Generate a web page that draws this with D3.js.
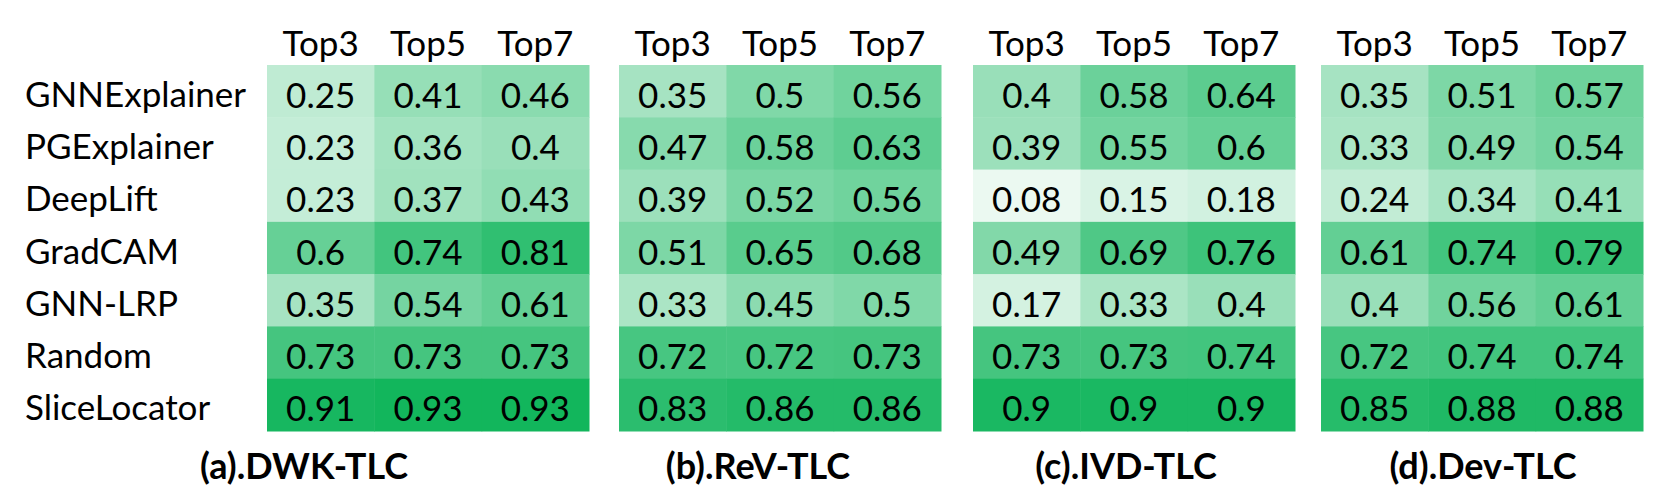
<!DOCTYPE html>
<html>
<head>
<meta charset="utf-8">
<script src="https://cdn.jsdelivr.net/npm/d3@7"></script>
<style>
  html, body { margin: 0; padding: 0; background: #fff; }
  svg { display: block; }
  text { font-family: Lato, "Open Sans", sans-serif; fill: #000; }
</style>
</head>
<body>
<svg id="chart" width="1661" height="500"></svg>
<script>
// ---- data ----
const methods = ["GNNExplainer", "PGExplainer", "DeepLift", "GradCAM", "GNN-LRP", "Random", "SliceLocator"];
const topk = ["Top3", "Top5", "Top7"];
const titles = ["(a).DWK-TLC", "(b).ReV-TLC", "(c).IVD-TLC", "(d).Dev-TLC"];
const dwkTLC = [[0.25, 0.41, 0.46], [0.23, 0.36, 0.4], [0.23, 0.37, 0.43], [0.6, 0.74, 0.81], [0.35, 0.54, 0.61], [0.73, 0.73, 0.73], [0.91, 0.93, 0.93]];
const revTLC = [[0.35, 0.5, 0.56], [0.47, 0.58, 0.63], [0.39, 0.52, 0.56], [0.51, 0.65, 0.68], [0.33, 0.45, 0.5], [0.72, 0.72, 0.73], [0.83, 0.86, 0.86]];
const ivdTLC = [[0.4, 0.58, 0.64], [0.39, 0.55, 0.6], [0.08, 0.15, 0.18], [0.49, 0.69, 0.76], [0.17, 0.33, 0.4], [0.73, 0.73, 0.74], [0.9, 0.9, 0.9]];
const devTLC = [[0.35, 0.51, 0.57], [0.33, 0.49, 0.54], [0.24, 0.34, 0.41], [0.61, 0.74, 0.79], [0.4, 0.56, 0.61], [0.72, 0.74, 0.74], [0.85, 0.88, 0.88]];
const panels = [dwkTLC, revTLC, ivdTLC, devTLC];

// ---- layout ----
const gridLefts = [267, 619, 973, 1321];
const gridW = 322;
const gridTop = 65, gridBottom = 431;
const titleCenters = [304, 758, 1126, 1483];

const svg = d3.select("#chart");
const color = d3.scaleLinear().domain([0, 1]).range(["#ffffff", "rgb(0,176,80)"]).interpolate(d3.interpolateRgb);
const y = d3.scaleBand().domain(methods).range([gridTop, gridBottom]).padding(0);

panels.forEach((data, p) => {
  const x = d3.scaleBand().domain(topk).range([gridLefts[p], gridLefts[p] + gridW]).padding(0);
  const g = svg.append("g");
  const cells = [];
  data.forEach((row, i) => row.forEach((v, j) => cells.push({ m: methods[i], k: topk[j], v })));

  g.selectAll("rect").data(cells).join("rect")
    .attr("x", d => x(d.k)).attr("y", d => y(d.m))
    .attr("width", x.bandwidth() + 0.5).attr("height", y.bandwidth() + 0.5)
    .attr("fill", d => color(d.v));

  g.selectAll("text.val").data(cells).join("text")
    .attr("class", "val")
    .attr("x", d => x(d.k) + x.bandwidth() / 2)
    .attr("y", d => y(d.m) + y.bandwidth() / 2 + 16.5)
    .attr("text-anchor", "middle")
    .style("font-size", "35px")
    .text(d => String(d.v));

  g.selectAll("text.hdr").data(topk).join("text")
    .attr("class", "hdr")
    .attr("x", d => x(d) + x.bandwidth() / 2)
    .attr("y", 56)
    .attr("text-anchor", "middle")
    .style("font-size", "35px")
    .text(d => d);

  g.append("text")
    .attr("x", titleCenters[p]).attr("y", 479)
    .attr("text-anchor", "middle")
    .style("font-size", "36px").style("font-weight", "bold")
    .text(titles[p]);
});

svg.append("g").selectAll("text").data(methods).join("text")
  .attr("x", 25)
  .attr("y", d => y(d) + y.bandwidth() / 2 + 15.5)
  .style("font-size", "35px")
  .text(d => d);
</script>
</body>
</html>
